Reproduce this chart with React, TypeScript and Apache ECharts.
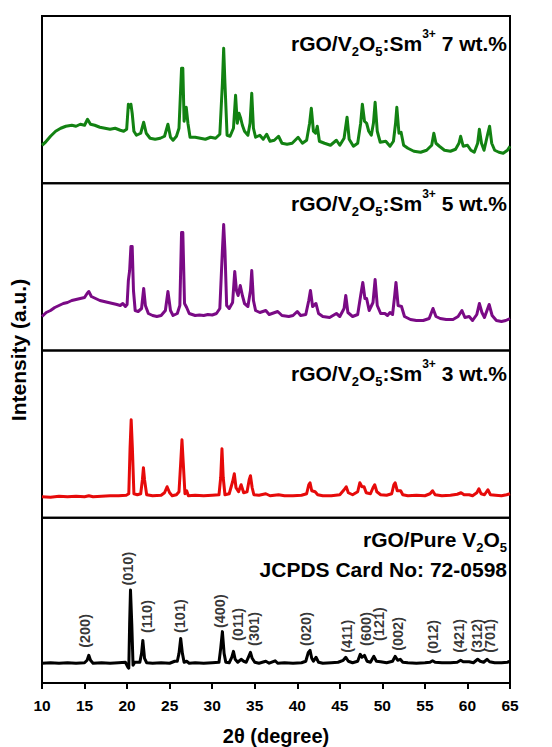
import { useEffect, useRef } from 'react';
import * as echarts from 'echarts';

// XRD patterns: [2θ (degree), intensity (a.u.)]
const sm7: number[][] = [
  [10, 38], [10.4, 41], [11, 47], [11.6, 52], [12.2, 55], [12.8, 57], [13.5, 58], [14, 57], [14.5, 59], [15.0, 58],
  [15.35, 64], [15.7, 59], [16.2, 58], [16.8, 56], [17.4, 55], [18, 54], [18.6, 55], [19.2, 53], [19.6, 52], [19.95, 54],
  [20.15, 79], [20.3, 76], [20.45, 79], [20.6, 70], [20.8, 52], [21.1, 48], [21.6, 50], [21.95, 61], [22.25, 50], [22.7, 45],
  [23.3, 44], [23.9, 45], [24.4, 47], [24.8, 59], [25.1, 46], [25.4, 43], [25.8, 47], [26.1, 55], [26.4, 115], [26.55, 115],
  [26.7, 62], [26.95, 76], [27.15, 60], [27.4, 46], [28, 46], [28.6, 45], [29.2, 44], [29.8, 46], [30.4, 45], [30.9, 49],
  [31.2, 100], [31.35, 135], [31.5, 100], [31.75, 48], [32.1, 47], [32.5, 55], [32.75, 88], [32.95, 60], [33.15, 70], [33.35, 65],
  [33.55, 58], [33.8, 52], [34.2, 48], [34.45, 60], [34.65, 90], [34.85, 55], [35.1, 46], [35.6, 48], [36.0, 44], [36.4, 49],
  [36.8, 42], [37.3, 43], [37.8, 47], [38.2, 40], [38.8, 39], [39.4, 40], [40.1, 46], [40.6, 40], [41.1, 43], [41.45, 60],
  [41.65, 75], [41.9, 52], [42.15, 50], [42.35, 57], [42.6, 42], [43.2, 40], [43.9, 38], [44.6, 43], [45.0, 38], [45.5, 45],
  [45.85, 66], [46.1, 44], [46.6, 37], [47.1, 40], [47.45, 60], [47.65, 79], [47.9, 62], [48.15, 60], [48.4, 52], [48.7, 48],
  [48.95, 60], [49.15, 81], [49.4, 52], [49.75, 41], [50.4, 42], [50.9, 37], [51.3, 42], [51.55, 60], [51.7, 76], [51.95, 50],
  [52.2, 51], [52.5, 38], [53, 35], [53.7, 32], [54.5, 31], [55.2, 33], [55.8, 38], [56.05, 50], [56.3, 40], [56.7, 37],
  [57.3, 33], [58.0, 32], [58.6, 34], [59.0, 40], [59.2, 47], [59.5, 37], [60.0, 38], [60.4, 33], [60.8, 31], [61.2, 40],
  [61.4, 54], [61.65, 40], [61.95, 33], [62.4, 50], [62.6, 57], [62.85, 40], [63.2, 33], [63.7, 31], [64.2, 30], [64.7, 33],
  [65, 37],
];

const sm5: number[][] = [
  [10, 34], [10.5, 38], [11, 40], [11.5, 43], [12, 45], [12.5, 47], [13, 48], [13.5, 50], [14, 51], [14.5, 52],
  [15, 53], [15.3, 57], [15.5, 59], [15.8, 54], [16.3, 52], [16.8, 50], [17.3, 49], [17.8, 48], [18.3, 47], [18.8, 46],
  [19.2, 45], [19.5, 47], [19.8, 44], [20.0, 46], [20.15, 70], [20.3, 80], [20.45, 104], [20.6, 104], [20.75, 60], [20.95, 40],
  [21.3, 39], [21.7, 42], [21.95, 62], [22.15, 45], [22.5, 37], [23, 35], [23.5, 34], [24, 35], [24.5, 40], [24.8, 59],
  [25.1, 40], [25.4, 35], [25.9, 37], [26.2, 45], [26.4, 118], [26.55, 118], [26.75, 47], [27.0, 43], [27.3, 37], [28, 35],
  [28.5, 35.5], [29, 35], [29.5, 36], [30, 35.5], [30.5, 37], [30.9, 42], [31.2, 100], [31.35, 126], [31.5, 100], [31.7, 45],
  [32.0, 42], [32.4, 48], [32.65, 79], [32.85, 60], [33.05, 55], [33.3, 65], [33.55, 55], [33.8, 47], [34.2, 44], [34.5, 60],
  [34.65, 80], [34.85, 50], [35.1, 40], [35.6, 38], [36.3, 40], [36.7, 36], [37.7, 39], [38.2, 35], [39, 34], [39.5, 35],
  [40.0, 39], [40.4, 35], [41.0, 36], [41.35, 50], [41.55, 60], [41.8, 44], [42.2, 47], [42.5, 37], [43, 34], [43.8, 33],
  [44.6, 37], [45.0, 34], [45.5, 42], [45.7, 55], [45.95, 38], [46.5, 34], [47.1, 36], [47.45, 55], [47.7, 68], [47.95, 52],
  [48.15, 52], [48.45, 40], [48.9, 48], [49.15, 71], [49.4, 45], [49.8, 37], [50.3, 37], [50.6, 35], [50.9, 38], [51.2, 36],
  [51.45, 55], [51.6, 68], [51.85, 45], [52.25, 44], [52.6, 34], [53.3, 31], [54, 30], [54.8, 30], [55.5, 32], [55.95, 42],
  [56.3, 34], [56.8, 32], [57.5, 31], [58.3, 31], [58.9, 34], [59.35, 40], [59.7, 33], [60.2, 34], [60.6, 30], [61.1, 36],
  [61.4, 47], [61.7, 38], [62.0, 33], [62.55, 46], [62.9, 35], [63.4, 30], [64, 29], [64.5, 30], [65, 32],
];

const sm3: number[][] = [
  [10, 21], [11, 20.5], [12, 21.5], [13, 21], [14, 21.5], [15, 21], [15.5, 22], [16, 21], [17, 21.5], [18, 22],
  [19, 22], [19.9, 22.5], [20.2, 24], [20.35, 70], [20.48, 98], [20.62, 70], [20.8, 24], [21.2, 23], [21.6, 24], [21.8, 38],
  [21.92, 50], [22.05, 38], [22.3, 23], [23, 22], [24, 22.5], [24.4, 25], [24.7, 31], [25.0, 25], [25.3, 22], [25.8, 23],
  [26.1, 26], [26.3, 55], [26.45, 78], [26.6, 55], [26.8, 24], [27.0, 27], [27.2, 22], [28, 22.5], [29, 22], [30, 22.5],
  [30.8, 23], [31.0, 40], [31.15, 69], [31.3, 40], [31.5, 23], [32, 24], [32.4, 36], [32.6, 44], [32.8, 30], [33.1, 26],
  [33.4, 33], [33.7, 25], [34.1, 26], [34.35, 38], [34.5, 42], [34.7, 30], [34.9, 23], [35.5, 22.5], [36.3, 24], [36.8, 22],
  [37.8, 23], [38.5, 22], [39.5, 22], [40.5, 22.5], [41.1, 24], [41.35, 33], [41.5, 35], [41.7, 27], [42.1, 26], [42.4, 23],
  [43, 22], [44, 22], [45, 23], [45.5, 28], [45.75, 31], [46.0, 25], [46.5, 23], [47.1, 26], [47.35, 35], [47.6, 31],
  [47.85, 31], [48.1, 25], [48.6, 24], [48.9, 30], [49.1, 33], [49.35, 26], [49.8, 23], [50.5, 22.5], [51.1, 24], [51.35, 33],
  [51.5, 35], [51.75, 27], [52.15, 27], [52.4, 23], [53, 22], [54, 22.5], [55, 22], [55.6, 24], [55.9, 27], [56.2, 23],
  [57, 22], [58, 22.5], [58.8, 23.5], [59.25, 25], [59.6, 23], [60.2, 23], [60.6, 22], [61.1, 25], [61.35, 29], [61.6, 24],
  [62.0, 23], [62.4, 28], [62.7, 23], [63.3, 22.5], [64, 22], [64.6, 23], [65, 24],
];

const pureV2O5: number[][] = [
  [10, 20], [11, 20.5], [12, 20], [13, 20.5], [14, 20], [15, 20.5], [15.3, 23], [15.5, 28], [15.7, 23], [16, 20],
  [17, 20.5], [18, 20], [19, 20.5], [19.8, 21], [20.1, 16], [20.2, 15], [20.3, 60], [20.4, 94], [20.55, 60], [20.7, 18],
  [20.9, 21], [21.5, 21], [21.7, 30], [21.85, 43], [22.05, 25], [22.3, 20.5], [23, 20], [24, 20.5], [25, 20], [25.6, 22],
  [25.9, 22], [26.1, 30], [26.3, 45], [26.5, 30], [26.7, 21], [27.0, 22], [27.3, 20], [28, 20.5], [29, 20], [30, 20.5],
  [30.8, 21], [31.0, 35], [31.2, 52], [31.4, 30], [31.6, 21], [32, 20.5], [32.3, 26], [32.5, 32], [32.7, 24], [33.0, 21],
  [33.4, 24], [33.7, 22], [34.0, 21], [34.3, 27], [34.5, 31], [34.7, 25], [35.0, 21], [35.5, 20], [36.3, 22], [36.7, 20],
  [37.4, 22.5], [37.7, 20], [38.5, 20.5], [39.5, 20], [40.5, 20.5], [41.0, 22], [41.3, 31], [41.5, 33], [41.7, 25], [41.9, 22],
  [42.2, 26], [42.5, 21], [43, 20], [44, 20.5], [44.8, 21], [45.4, 23], [45.7, 26], [46.0, 22], [46.5, 20.5], [47.1, 22],
  [47.4, 29], [47.6, 26], [47.9, 28], [48.2, 22], [48.6, 21], [49.0, 27], [49.3, 22], [49.8, 21.5], [50.5, 20.5], [51.2, 22],
  [51.5, 27], [51.8, 23], [52.1, 24], [52.4, 21], [53, 20.5], [54, 20], [55, 20.5], [55.6, 21], [55.9, 22.5], [56.2, 21],
  [57, 20.5], [58, 20.5], [58.8, 21], [59.2, 23], [59.5, 21.5], [60.2, 21.5], [60.7, 20.5], [61.2, 24], [61.5, 22], [61.9, 21],
  [62.3, 24], [62.6, 21.5], [63.2, 20.5], [64, 20.5], [64.7, 21], [65, 22],
];

// JCPDS 72-0598 reflections: Miller indices, 2θ and marker height
const hklLabels = ['(200)', '(010)', '(110)', '(101)', '(400)', '(011)', '(301)', '(020)', '(411)', '(600)', '(121)', '(002)', '(012)', '(421)', '(312)', '(701)'];
const hklAngles = [15.1, 20.15, 22.3, 26.2, 30.95, 33.0, 34.9, 41.0, 45.8, 48.05, 49.6, 51.8, 55.9, 59.0, 61.1, 62.6];
const hklHeights = [31, 94, 46, 46, 51, 38, 33, 33, 26, 33, 38, 28, 25, 26, 26, 26];

const xTicks = { min: 10, max: 65, interval: 5 };

const FONT = '"Liberation Sans", Arial, sans-serif';
const PANEL_TOPS = [16, 183.25, 350.5, 517.75];
const PANEL_H = 167.25;

const patterns = [
  { data: sm7, color: '#128212' },
  { data: sm5, color: '#7a0a85' },
  { data: sm3, color: '#e60a0a' },
  { data: pureV2O5, color: '#000000' },
];

const richStyles = {
  m: { fontSize: 21, fontWeight: 'bold', fontFamily: FONT, lineHeight: 30, verticalAlign: 'middle', fill: '#000' },
  s: { fontSize: 13, fontWeight: 'bold', fontFamily: FONT, lineHeight: 10, verticalAlign: 'bottom', fill: '#000' },
  p: { fontSize: 12, fontWeight: 'bold', fontFamily: FONT, lineHeight: 16, verticalAlign: 'top', fill: '#000' },
};

function sampleTitle(wt: string, x: number, y: number) {
  return {
    type: 'text',
    x,
    y,
    style: {
      text: `{m|rGO/V}{s|2}{m|O}{s|5}{m|:Sm}{p|3+}{m| ${wt} wt.%}`,
      align: 'right',
      verticalAlign: 'middle',
      fill: '#000',
      rich: richStyles,
    },
  };
}

export default function App() {
  const ref = useRef<HTMLDivElement>(null);

  useEffect(() => {
    if (!ref.current) return;
    const chart = echarts.init(ref.current, undefined, { renderer: 'svg' });

    const grids = PANEL_TOPS.map((top) => ({
      left: 42,
      right: 42,
      top,
      height: PANEL_H,
      show: true,
      borderColor: '#000',
      borderWidth: 2,
      backgroundColor: 'transparent',
    }));

    const xAxes = PANEL_TOPS.map((_, i) => {
      const bottom = i === 3;
      return {
        type: 'value',
        gridIndex: i,
        min: xTicks.min,
        max: xTicks.max,
        interval: xTicks.interval,
        splitLine: { show: false },
        axisLine: { show: bottom, onZero: false, lineStyle: { color: '#000', width: 2 } },
        axisTick: { show: bottom, length: 6, lineStyle: { color: '#000', width: 2 } },
        axisLabel: {
          show: bottom,
          color: '#000',
          fontSize: 15.5,
          fontWeight: 'bold',
          fontFamily: FONT,
          margin: 14,
        },
        name: bottom ? '2θ (degree)' : '',
        nameLocation: 'middle',
        nameGap: 43,
        nameTextStyle: { color: '#000', fontSize: 20, fontWeight: 'bold', fontFamily: FONT },
      };
    });

    const yAxes = PANEL_TOPS.map((_, i) => ({
      type: 'value',
      gridIndex: i,
      min: 0,
      max: PANEL_H,
      show: false,
      splitLine: { show: false },
    }));

    const lineSeries = patterns.map((p, i) => ({
      type: 'line',
      xAxisIndex: i,
      yAxisIndex: i,
      data: p.data,
      symbol: 'none',
      lineStyle: { color: p.color, width: 3, join: 'round' },
      silent: true,
    }));

    const hklSeries = {
      type: 'scatter',
      xAxisIndex: 3,
      yAxisIndex: 3,
      symbolSize: 1,
      itemStyle: { color: 'rgba(0,0,0,0)' },
      data: hklAngles.map((a, i) => ({ value: [a, hklHeights[i]], name: hklLabels[i] })),
      label: {
        show: true,
        position: 'top',
        distance: 4,
        rotate: 90,
        align: 'left',
        verticalAlign: 'middle',
        formatter: '{b}',
        color: '#000',
        fontSize: 14.5,
        fontWeight: 'bold',
        fontFamily: FONT,
      },
      silent: true,
    };

    chart.setOption({
      animation: false,
      backgroundColor: '#fff',
      grid: grids,
      xAxis: xAxes,
      yAxis: yAxes,
      series: [...lineSeries, hklSeries],
      graphic: [
        sampleTitle('7', 507, 43),
        sampleTitle('5', 507, 203),
        sampleTitle('3', 507, 373),
        {
          type: 'text',
          x: 507,
          y: 539,
          style: {
            text: '{m|rGO/Pure V}{s|2}{m|O}{s|5}',
            align: 'right',
            verticalAlign: 'middle',
            fill: '#000',
            rich: richStyles,
          },
        },
        {
          type: 'text',
          x: 507,
          y: 569,
          style: {
            text: 'JCPDS Card No: 72-0598',
            align: 'right',
            verticalAlign: 'middle',
            fill: '#000',
            fontSize: 21,
            fontWeight: 'bold',
            fontFamily: FONT,
          },
        },
        {
          type: 'text',
          x: 18,
          y: 350,
          rotation: Math.PI / 2,
          style: {
            text: 'Intensity (a.u.)',
            align: 'center',
            verticalAlign: 'middle',
            fill: '#000',
            fontSize: 21,
            fontWeight: 'bold',
            fontFamily: FONT,
          },
        },
      ],
    });

    return () => chart.dispose();
  }, []);

  return <div ref={ref} style={{ position: 'fixed', left: 0, top: 0, width: 552, height: 747 }} />;
}
